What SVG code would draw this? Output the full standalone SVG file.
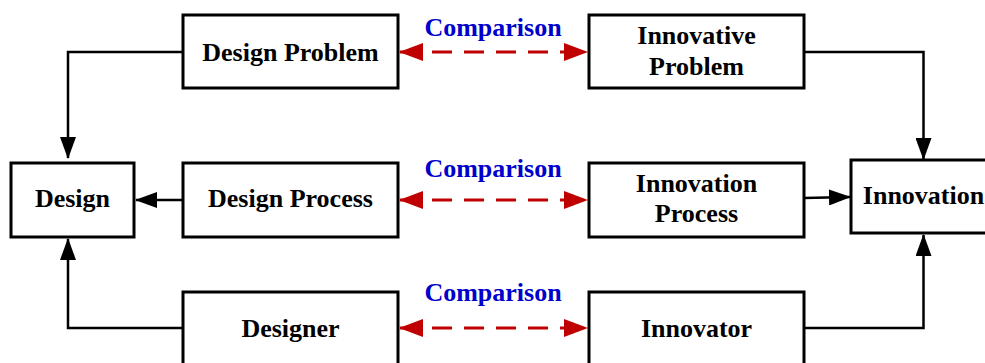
<svg xmlns="http://www.w3.org/2000/svg" width="985" height="363" viewBox="0 0 985 363">
<style>
.box{fill:#fff;stroke:#000;stroke-width:3}
.t{font-family:"Liberation Serif","Times New Roman",serif;font-weight:bold;font-size:26px;fill:#000;text-anchor:middle}
.c{font-family:"Liberation Serif","Times New Roman",serif;font-weight:bold;font-size:26px;fill:#0000CC;text-anchor:middle}
.ln{fill:none;stroke:#000;stroke-width:2.5}
.cmp{fill:none;stroke:#C00000;stroke-width:3;stroke-dasharray:20 12}
</style>
<defs>
<marker id="ah" markerUnits="userSpaceOnUse" markerWidth="22" markerHeight="16" refX="21" refY="8" orient="auto">
<path d="M0,0 L22,8 L0,16 Z" fill="#000"/>
</marker>
<marker id="rh" markerUnits="userSpaceOnUse" markerWidth="24" markerHeight="18" refX="23" refY="9" orient="auto-start-reverse">
<path d="M0,0 L24,9 L0,18 Z" fill="#C00000"/>
</marker>
</defs>
<g id="connectors">
<path class="ln" d="M183,52 H68 V158" marker-end="url(#ah)"/>
<path class="ln" d="M183,200 H136" marker-end="url(#ah)"/>
<path class="ln" d="M183,328 H68 V239" marker-end="url(#ah)"/>
<path class="ln" d="M804,52 H923.5 V159" marker-end="url(#ah)"/>
<path class="ln" d="M804,198 L850,197" marker-end="url(#ah)"/>
<path class="ln" d="M804,328 H923.5 V235" marker-end="url(#ah)"/>
<path class="cmp" d="M400,52 H587" marker-start="url(#rh)" marker-end="url(#rh)"/>
<path class="cmp" d="M400,200 H587" marker-start="url(#rh)" marker-end="url(#rh)"/>
<path class="cmp" d="M400,328 H587" marker-start="url(#rh)" marker-end="url(#rh)"/>
<text class="c" x="493" y="36">Comparison</text>
<text class="c" x="493" y="177">Comparison</text>
<text class="c" x="493" y="301">Comparison</text>
</g>
<g id="design-problem"><rect class="box" x="183" y="15" width="215" height="73"/><text class="t" x="290.5" y="61">Design Problem</text></g>
<g id="innovative-problem"><rect class="box" x="589" y="15" width="215" height="73"/><text class="t" x="696.5" y="44">Innovative</text><text class="t" x="696.5" y="75">Problem</text></g>
<g id="design"><rect class="box" x="11" y="163" width="123" height="74"/><text class="t" x="72.5" y="207">Design</text></g>
<g id="design-process"><rect class="box" x="183" y="163" width="215" height="74"/><text class="t" x="290.5" y="207">Design Process</text></g>
<g id="innovation-process"><rect class="box" x="589" y="163" width="215" height="74"/><text class="t" x="696.5" y="192">Innovation</text><text class="t" x="696.5" y="222">Process</text></g>
<g id="innovation"><rect class="box" x="851" y="160" width="146" height="73"/><text class="t" x="923.5" y="204">Innovation</text></g>
<g id="designer"><rect class="box" x="183" y="292" width="215" height="80"/><text class="t" x="290.5" y="337">Designer</text></g>
<g id="innovator"><rect class="box" x="589" y="292" width="215" height="80"/><text class="t" x="696.5" y="337">Innovator</text></g>
</svg>
